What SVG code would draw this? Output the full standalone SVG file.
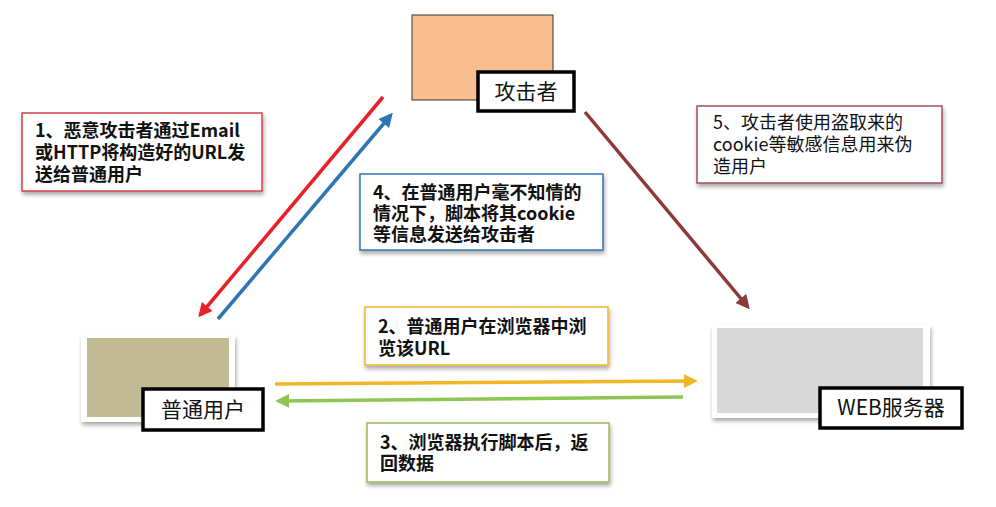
<svg xmlns="http://www.w3.org/2000/svg" width="996" height="507" viewBox="0 0 996 507">
<defs>
<style>
.t{font-family:"Noto Sans CJK SC","Noto Sans",sans-serif;font-size:18px;fill:#111}
.b{font-weight:bold}
.lbl{font-family:"Noto Sans CJK SC","Noto Sans",sans-serif;font-size:21px;fill:#111;text-anchor:middle}
.lb{fill:#fff;stroke:#000;stroke-width:3.5}
.note{fill:#fff;stroke-width:1.5}
</style>
<filter id="sh" x="-10%" y="-10%" width="130%" height="140%">
<feGaussianBlur in="SourceAlpha" stdDeviation="2"/>
<feOffset dx="1" dy="3"/>
<feComponentTransfer><feFuncA type="linear" slope="0.35"/></feComponentTransfer>
<feMerge><feMergeNode/><feMergeNode in="SourceGraphic"/></feMerge>
</filter>
<marker id="mr" viewBox="0 0 10 10" refX="8" refY="5" markerWidth="4" markerHeight="4" orient="auto"><path d="M0,0L10,5L0,10z" fill="#E8202A"/></marker>
<marker id="mb" viewBox="0 0 10 10" refX="8" refY="5" markerWidth="4" markerHeight="4" orient="auto"><path d="M0,0L10,5L0,10z" fill="#2E75B6"/></marker>
<marker id="mm" viewBox="0 0 10 10" refX="8" refY="5" markerWidth="4" markerHeight="4" orient="auto"><path d="M0,0L10,5L0,10z" fill="#8B3A3A"/></marker>
<marker id="my" viewBox="0 0 10 10" refX="8" refY="5" markerWidth="4" markerHeight="4" orient="auto"><path d="M0,0L10,5L0,10z" fill="#F2B526"/></marker>
<marker id="mg" viewBox="0 0 10 10" refX="8" refY="5" markerWidth="4" markerHeight="4" orient="auto"><path d="M0,0L10,5L0,10z" fill="#8DC652"/></marker>
</defs>
<rect width="996" height="507" fill="#fff"/>

<g id="connectors" fill="none" stroke-width="3.5">
<line x1="383" y1="97" x2="200" y2="315" stroke="#E8202A" marker-end="url(#mr)"/>
<line x1="218" y1="319" x2="391" y2="115" stroke="#2E75B6" marker-end="url(#mb)"/>
<line x1="585" y1="112" x2="748" y2="307" stroke="#8B3A3A" marker-end="url(#mm)"/>
<line x1="275" y1="384" x2="695" y2="381" stroke="#F2B526" marker-end="url(#my)"/>
<line x1="683" y1="397" x2="278" y2="401" stroke="#8DC652" marker-end="url(#mg)"/>
</g>

<g id="attacker">
<rect x="412" y="15" width="141" height="85" fill="#F9BE8F" stroke="#333" stroke-width="1"/>
<rect class="lb" x="478" y="72" width="96" height="39"/>
<text class="lbl" x="526" y="99">攻击者</text>
</g>

<g id="user">
<rect x="81" y="335" width="154" height="87" fill="#fff" filter="url(#sh)"/>
<rect x="87" y="338" width="142" height="79" fill="#C2BA94"/>
<rect class="lb" x="143" y="389" width="120" height="41"/>
<text class="lbl" x="203" y="417">普通用户</text>
</g>

<g id="webserver">
<rect x="712" y="325" width="218" height="93" fill="#fff" filter="url(#sh)"/>
<rect x="717" y="328" width="206" height="85" fill="#D9D9D9"/>
<rect class="lb" x="820" y="388" width="142" height="40"/>
<text class="lbl" x="891" y="415">WEB服务器</text>
</g>

<g id="note1">
<rect class="note" x="22" y="113" width="240" height="78" stroke="#D9424E" filter="url(#sh)"/>
<text class="t b" x="35" y="137">1、恶意攻击者通过Email</text>
<text class="t b" x="35" y="159">或HTTP将构造好的URL发</text>
<text class="t b" x="35" y="181">送给普通用户</text>
</g>

<g id="note4">
<rect class="note" x="360" y="174" width="243" height="76" stroke="#2E75B6" filter="url(#sh)"/>
<text class="t b" x="373" y="199">4、在普通用户毫不知情的</text>
<text class="t b" x="373" y="220">情况下，脚本将其cookie</text>
<text class="t b" x="373" y="241">等信息发送给攻击者</text>
</g>

<g id="note5">
<rect class="note" x="697" y="106" width="245" height="77" stroke="#A0505A" filter="url(#sh)"/>
<text class="t" x="713" y="129">5、攻击者使用盗取来的</text>
<text class="t" x="713" y="151">cookie等敏感信息用来伪</text>
<text class="t" x="713" y="173">造用户</text>
</g>

<g id="note2">
<rect class="note" x="365" y="307" width="243" height="58" stroke="#F2B526" filter="url(#sh)"/>
<text class="t b" x="378" y="333">2、普通用户在浏览器中浏</text>
<text class="t b" x="378" y="355">览该URL</text>
</g>

<g id="note3">
<rect class="note" x="367" y="423" width="242" height="59" stroke="#9BBB59" filter="url(#sh)"/>
<text class="t b" x="380" y="449">3、浏览器执行脚本后，返</text>
<text class="t b" x="380" y="470">回数据</text>
</g>
</svg>
